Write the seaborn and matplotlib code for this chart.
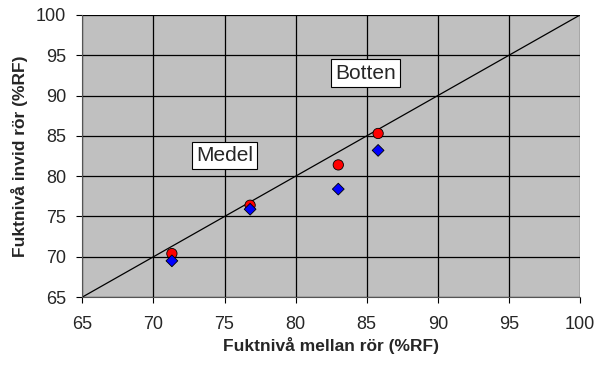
import matplotlib
matplotlib.use('Agg')
import numpy as np
import pandas as pd
import seaborn as sns
import matplotlib.pyplot as plt

# Data
x_mellan = [71.3, 76.8, 83.0, 85.8]
y_botten = [70.4, 76.4, 81.4, 85.3]   # red circles
y_medel = [69.5, 75.9, 78.4, 83.2]    # blue diamonds
ticks = [65, 70, 75, 80, 85, 90, 95, 100]

df = pd.DataFrame({
    'x': x_mellan * 2,
    'y': y_botten + y_medel,
    'serie': ['Botten'] * 4 + ['Medel'] * 4,
})

sns.set_style('white')
plt.rcParams['font.family'] = ['Liberation Sans', 'DejaVu Sans']

fig, ax = plt.subplots(figsize=(5.98, 3.65), dpi=100)
ax.set_facecolor('#c0c0c0')

# 1:1 line
ax.plot([65, 100], [65, 100], color='black', linewidth=0.9, zorder=2)

sns.scatterplot(
    ax=ax, data=df, x='x', y='y', hue='serie', style='serie', size='serie',
    markers={'Botten': 'o', 'Medel': 'D'},
    palette={'Botten': '#ff0000', 'Medel': '#0000ff'},
    sizes={'Botten': 55, 'Medel': 36},
    edgecolor='black', linewidth=0.6, legend=False, zorder=3,
)

ax.set_xlim(65, 100)
ax.set_ylim(65, 100)
ax.set_xticks(ticks)
ax.set_yticks(ticks)
ax.grid(True, color='black', linewidth=0.9)
ax.set_axisbelow(True)
for side in ['top', 'right']:
    ax.spines[side].set_visible(False)
for side in ['left', 'bottom']:
    ax.spines[side].set_color('#555555')
ax.tick_params(axis='both', labelsize=13, length=4.5, direction='out',
               color='black', bottom=True, left=True)
ax.tick_params(axis='x', pad=9)
ax.tick_params(axis='y', pad=7)

ax.set_xlabel('Fuktnivå mellan rör (%RF)', fontsize=12.5, fontweight='bold', labelpad=3)
ax.set_ylabel('Fuktnivå invid rör (%RF)', fontsize=12.5, fontweight='bold', labelpad=6)

box = dict(boxstyle='square,pad=0.2', facecolor='white', edgecolor='black', linewidth=0.8)
ax.text(75.0, 82.6, 'Medel', fontsize=15, ha='center', va='center', bbox=box, zorder=4)
ax.text(84.9, 92.8, 'Botten', fontsize=15, ha='center', va='center', bbox=box, zorder=4)

fig.subplots_adjust(left=0.1376, right=0.970, top=0.959, bottom=0.186)
fig.savefig('out.png', dpi=100)
